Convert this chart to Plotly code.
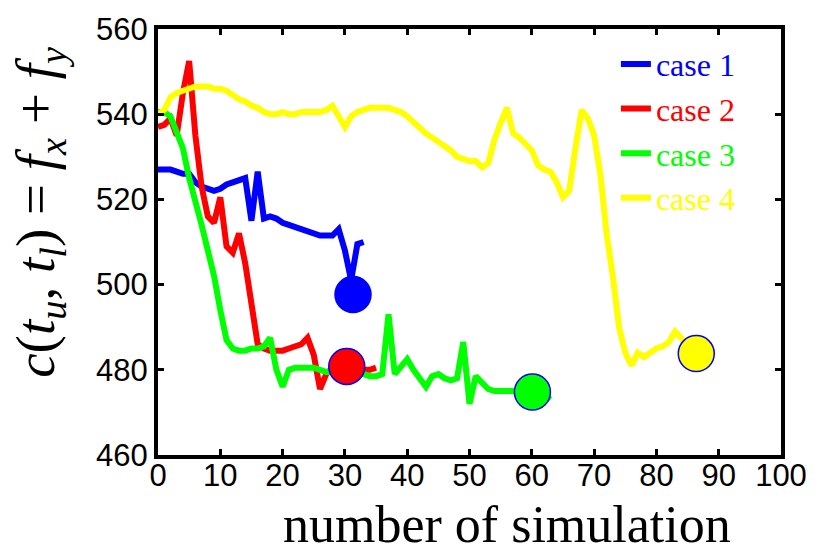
import plotly.graph_objects as go

# ---- data ----
case1_x = list(range(0, 34))
case1_y = [527, 527, 527, 526.5, 526, 526, 524, 523, 522.5, 522, 522.5, 523.5, 524, 524.5, 525,
           515, 526.5, 515.5, 516, 515.5, 514.5, 514, 513.5, 513, 512.5, 512, 511.5, 511.5, 511.5,
           513, 508, 501, 509.5, 510]

case2_x = list(range(0, 36))
case2_y = [537, 537.5, 539, 535, 545, 552.5, 535, 523, 516, 514.5, 520.5, 509, 507.5, 512,
           505, 495, 486, 485, 484.5, 484.5, 484.5, 485, 485.5, 486, 487.5, 483.5, 475.5, 479,
           480.5, 480.5, 480.5, 480, 480.5, 480, 480, 480.5]

case3_x = list(range(0, 64))
case3_y = [540.5, 540.5, 539.5, 536, 532, 525, 520, 514, 508, 502, 494, 487, 485, 484.5,
           484.5, 485, 485, 485.5, 487.5, 480, 476, 480, 480.5, 480.5, 480.5, 480.5, 480, 479.5,
           479.5, 479, 479, 479, 479, 479, 478.5, 478.5, 479, 493, 479, 481, 482.5, 480, 478,
           476, 478.5, 479, 478, 477.5, 478, 486.5, 472, 478.5, 477, 475.5, 475, 475, 475, 475,
           474.5, 474.5, 474.5, 474.5, 474, 473]

case4_x = list(range(0, 90))
case4_y = [540, 541, 544, 545, 545.5, 546, 546.5, 546.5, 546.5, 546, 546, 545.5, 544.5, 543.5,
           543, 542, 541.5, 540.5, 540, 540, 540.5, 540, 540, 540.5, 540.5, 540.5, 540.5, 541,
           542, 539.5, 537, 539.5, 540.5, 541, 541.5, 541.5, 541.5, 541.5, 541, 540.5, 539.5,
           538, 537, 535.5, 534.5, 533.5, 532.5, 531.5, 530, 529.5, 529, 529, 527.5, 528.5, 534,
           538, 541.5, 535.5, 534.5, 533, 531.5, 528, 527, 526.5, 524, 520.5, 522, 532, 541, 539,
           535, 526, 512, 502, 490, 484, 481, 484, 483, 484, 485, 485.5, 486.5, 489, 487.5, 485,
           484, 483.5, 483.5, 483]

# highlighted points (circles)
mark_x = [31.3, 30.3, 60.1, 86.4]
mark_y = [497.7, 480.8, 474.8, 483.8]

names = ["case 1", "case 2", "case 3", "case 4"]
colors = ["#0000ff", "#ff0000", "#00ff00", "#ffff00"]
xs = [case1_x, case2_x, case3_x, case4_x]
ys = [case1_y, case2_y, case3_y, case4_y]

x_ticks = list(range(0, 101, 10))
y_ticks = list(range(460, 561, 20))

fig = go.Figure()
for i in range(4):
    fig.add_trace(go.Scatter(
        x=xs[i], y=ys[i], mode="lines",
        line=dict(color=colors[i], width=6),
        name=f"<span style='color:{colors[i]}'>{names[i]}</span>",
    ))
for i in range(4):
    fig.add_trace(go.Scatter(
        x=[mark_x[i]], y=[mark_y[i]], mode="markers",
        marker=dict(size=36, color=colors[i], line=dict(color="#0000ff", width=1.5)),
        showlegend=False,
    ))

axis_common = dict(
    showline=True, linecolor="black", linewidth=4, mirror="ticks",
    ticks="inside", ticklen=6, tickwidth=3, tickcolor="black",
    showgrid=False, zeroline=False,
    tickfont=dict(family="Liberation Sans, Arial", size=31, color="black"),
)

fig.update_layout(
    width=819, height=552,
    margin=dict(l=158, r=36, t=23, b=97),
    paper_bgcolor="white", plot_bgcolor="white",
    xaxis=dict(range=[0, 100], tickvals=x_ticks, ticklabelstandoff=-10, **axis_common),
    yaxis=dict(range=[460, 560], tickvals=y_ticks, ticklabelstandoff=0, **axis_common),
    legend=dict(
        x=0.735, y=0.982, xanchor="left", yanchor="top",
        bgcolor="rgba(0,0,0,0)", borderwidth=0,
        font=dict(family="Liberation Serif, Times New Roman, serif", size=32),
        itemwidth=30, tracegroupgap=0,
    ),
    showlegend=True,
    annotations=[
        dict(text="number of simulation", xref="paper", yref="paper",
             x=0.56, y=-0.163, xanchor="center", yanchor="middle", showarrow=False,
             font=dict(family="Liberation Serif, Times New Roman, serif", size=52, color="black")),
        dict(text="<i>c</i>(<i>t</i><sub><i>u</i></sub>, <i>t</i><sub><i>l</i></sub>) = "
                  "<i>f</i><sub><i>x</i></sub> + <i>f</i><sub><i>y</i></sub>",
             xref="paper", yref="paper", x=-0.19, y=0.57, xanchor="center", yanchor="middle",
             textangle=-90, showarrow=False,
             font=dict(family="Liberation Serif, Times New Roman, serif", size=55, color="black")),
    ],
)

fig.write_html("out.html")
